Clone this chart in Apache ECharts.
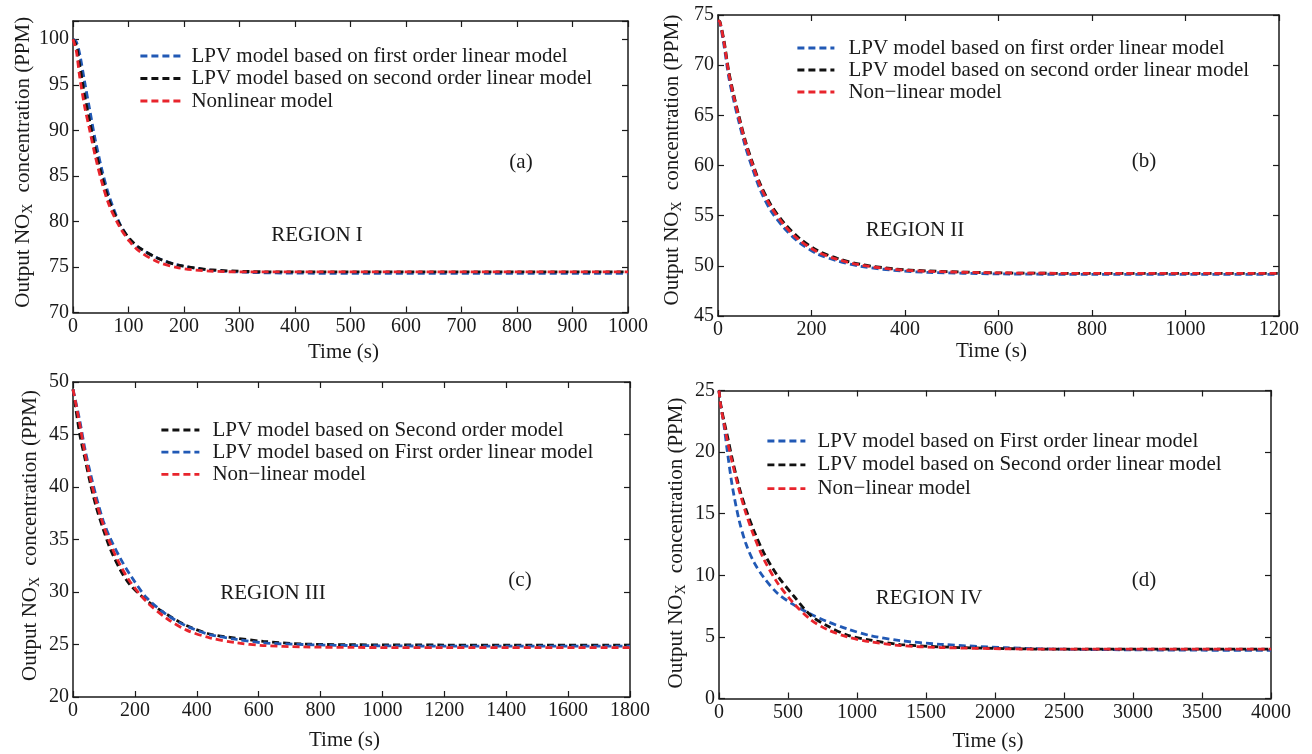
<!DOCTYPE html>
<html>
<head>
<meta charset="utf-8">
<script src="https://cdn.jsdelivr.net/npm/echarts@6/dist/echarts.min.js"></script>
<style>
  html, body { margin: 0; padding: 0; background: #fff; }
  #chart { width: 1312px; height: 754px; }
</style>
</head>
<body>
<div id="chart"></div>
<script>
// ---- (a) REGION I ----
const timeA   = [0, 6, 12, 21, 30, 40, 52, 65, 84, 102, 120, 153, 190, 246, 318, 400, 600, 800, 1000];
const firstA  = [100, 99.7, 98.4, 95.3, 92.3, 89.0, 85.7, 82.8, 79.8, 78.0, 77.05, 75.95, 75.2, 74.65, 74.4, 74.32, 74.3, 74.3, 74.3];
const secondA = [100, 99.3, 97.2, 93.8, 91.0, 88.0, 85.0, 82.3, 79.7, 78.1, 77.1, 75.95, 75.2, 74.7, 74.5, 74.45, 74.45, 74.45, 74.45];
const nonlinA = [100, 98.7, 95.9, 92.6, 90.05, 87.2, 84.3, 81.8, 79.4, 77.8, 76.7, 75.55, 74.9, 74.55, 74.45, 74.45, 74.45, 74.45, 74.45];

// ---- (b) REGION II ----
const timeB   = [0, 4, 13, 23, 34, 45, 59, 73, 91, 113, 141, 173, 212, 255, 305, 376, 448, 600, 800, 1000, 1200];
const firstB  = [74.45, 74.2, 71.9, 68.8, 66.4, 64.3, 61.8, 59.8, 57.5, 55.5, 53.8, 52.35, 51.2, 50.5, 49.95, 49.55, 49.35, 49.2, 49.15, 49.15, 49.15];
const secondB = [74.45, 74.35, 72.4, 69.4, 67.0, 64.9, 62.4, 60.4, 58.1, 56.1, 54.3, 52.8, 51.55, 50.75, 50.15, 49.7, 49.5, 49.3, 49.25, 49.25, 49.25];
const nonlinB = [74.45, 74.3, 72.2, 69.2, 66.8, 64.7, 62.2, 60.2, 57.9, 55.9, 54.1, 52.6, 51.4, 50.65, 50.08, 49.65, 49.45, 49.3, 49.25, 49.25, 49.25];

// ---- (c) REGION III ----
const timeC   = [0, 22, 38, 57, 76, 98, 119, 152, 184, 238, 302, 367, 442, 529, 615, 744, 900, 1200, 1500, 1800];
const secondC = [49.3, 45.0, 42.8, 40.2, 38.0, 35.95, 34.2, 32.15, 30.7, 29.2, 27.9, 26.8, 26.0, 25.6, 25.3, 25.05, 24.98, 24.95, 24.95, 24.95];
const firstC  = [49.3, 46.3, 43.7, 41.2, 38.97, 36.75, 35.2, 33.26, 31.67, 29.45, 27.86, 26.75, 25.95, 25.48, 25.16, 25.0, 24.9, 24.85, 24.85, 24.85];
const nonlinC = [49.3, 45.95, 43.3, 40.7, 38.5, 36.4, 34.7, 32.6, 31.0, 29.07, 27.5, 26.37, 25.64, 25.16, 24.9, 24.77, 24.72, 24.7, 24.7, 24.7];

// ---- (d) REGION IV ----
const timeD   = [0, 13, 37, 61, 97, 145, 194, 254, 326, 423, 543, 664, 784, 929, 1098, 1315, 1604, 2086, 2500, 3000, 3500, 4000];
const firstD  = [25, 23.8, 22.1, 20.0, 17.2, 14.5, 12.6, 11.05, 9.8, 8.55, 7.6, 6.85, 6.25, 5.65, 5.1, 4.7, 4.4, 4.12, 4.0, 3.95, 3.92, 3.9];
const secondD = [25, 23.8, 22.5, 21.3, 19.4, 17.2, 15.4, 13.6, 11.8, 9.98, 8.3, 6.75, 5.9, 5.15, 4.74, 4.38, 4.19, 4.05, 4.0, 4.0, 4.0, 4.0];
const nonlinD = [25, 23.7, 22.3, 20.9, 19.1, 16.96, 15.07, 13.17, 11.28, 9.4, 7.7, 6.41, 5.6, 5.0, 4.6, 4.3, 4.14, 4.03, 4.0, 4.0, 4.0, 4.0];

const xRanges = [[0, 1000, 100], [0, 1200, 200], [0, 1800, 200], [0, 4000, 500]];
const yRanges = [[70, 102, 5], [45, 75, 5], [20, 50, 5], [0, 25, 5]];

const FONT = 'Liberation Serif';
const INK = '#1a1a1a';
const BLUE = '#2159b5';
const BLACK = '#111111';
const RED = '#e8242c';

const pts = (t, v) => t.map((x, i) => [x, v[i]]);

const chart = echarts.init(document.getElementById('chart'));

const grids = [
  { left: 73, top: 21, width: 555, height: 291.5 },
  { left: 718, top: 15, width: 561, height: 301 },
  { left: 73, top: 382, width: 557, height: 315 },
  { left: 719, top: 390.5, width: 552, height: 308 }
];

const xAxis = [];
const yAxis = [];
const line = { color: INK, width: 1.5 };
const tick = { inside: true, length: 6, lineStyle: { color: INK, width: 1.2 } };
const xNameGap = [29, 25, 33, 32];
const yNameGap = [31, 34, 31, 31];
const yNameShift = [9, 11, 8, 3];

grids.forEach((g, i) => {
  const [x0, x1, xs] = xRanges[i];
  const [y0, y1, ys] = yRanges[i];
  xAxis.push({
    type: 'value', gridIndex: i, min: x0, max: x1, interval: xs, position: 'bottom',
    name: 'Time (s)', nameLocation: 'middle', nameGap: xNameGap[i],
    nameTextStyle: { fontFamily: FONT, fontSize: 21, color: INK, padding: [0, 14, 0, 0] },
    axisLine: { onZero: false, lineStyle: line },
    axisTick: tick,
    axisLabel: { fontFamily: FONT, fontSize: 20, color: INK, margin: 4, formatter: v => String(v) },
    splitLine: { show: false }
  });
  xAxis.push({
    type: 'value', gridIndex: i, min: x0, max: x1, interval: xs, position: 'top',
    axisLine: { onZero: false, lineStyle: line },
    axisTick: tick, axisLabel: { show: false }, splitLine: { show: false }
  });
  yAxis.push({
    type: 'value', gridIndex: i, min: y0, max: y1, interval: ys, position: 'left',
    name: 'Output NO{sub|X} concentration (PPM)', nameLocation: 'middle', nameRotate: 90,
    nameGap: yNameGap[i],
    nameTextStyle: {
      fontFamily: FONT, fontSize: 21, color: INK, lineHeight: 24, padding: [0, 0, 0, yNameShift[i]],
      rich: {
        sub: { fontFamily: FONT, fontSize: 14, color: INK, lineHeight: 14, verticalAlign: 'bottom', padding: [0, 6, 0, 0] }
      }
    },
    axisLine: { onZero: false, lineStyle: line },
    axisTick: tick,
    axisLabel: {
      fontFamily: FONT, fontSize: 20, color: INK, margin: 4,
      formatter: v => (v % 5 === 0 ? String(v) : '')
    },
    splitLine: { show: false }
  });
  yAxis.push({
    type: 'value', gridIndex: i, min: y0, max: y1, interval: ys, position: 'right',
    axisLine: { onZero: false, lineStyle: line },
    axisTick: tick, axisLabel: { show: false }, splitLine: { show: false }
  });
});

function dashed(name, color, panel, t, v) {
  return {
    name, type: 'line', xAxisIndex: panel * 2, yAxisIndex: panel * 2,
    data: pts(t, v), symbol: 'none', smooth: 0.3, color,
    lineStyle: { color, width: 2.8, type: [7, 4] },
    emphasis: { disabled: true }, silent: true
  };
}

const N1 = 'LPV model based on first order linear model';
const N2 = 'LPV model based on second order linear model';
const NL = 'Nonlinear model';
const NL2 = 'Non\u2212linear model';
const C2 = 'LPV model based on Second order model';
const C1 = 'LPV model based on First order linear model';
const D2 = 'LPV model based on Second order linear model';

const series = [
  dashed(N1, BLUE, 0, timeA, firstA),
  dashed(N2, BLACK, 0, timeA, secondA),
  dashed(NL, RED, 0, timeA, nonlinA),
  dashed(N1, BLUE, 1, timeB, firstB),
  dashed(N2, BLACK, 1, timeB, secondB),
  dashed(NL2, RED, 1, timeB, nonlinB),
  dashed(C2, BLACK, 2, timeC, secondC),
  dashed(C1, BLUE, 2, timeC, firstC),
  dashed(NL2, RED, 2, timeC, nonlinC),
  dashed(C1, BLUE, 3, timeD, firstD),
  dashed(D2, BLACK, 3, timeD, secondD),
  dashed(NL2, RED, 3, timeD, nonlinD)
];

function legendAt(left, top, names, w, gap, textPad) {
  return {
    left, top, orient: 'vertical', padding: 0, itemGap: gap,
    itemWidth: w, itemHeight: 14, selectedMode: false,
    data: names,
    itemStyle: { opacity: 0, borderWidth: 0 },
    lineStyle: { width: 2.8 },
    textStyle: { fontFamily: FONT, fontSize: 21, color: INK, lineHeight: 22, padding: [0, 0, 0, textPad] }
  };
}

const legend = [
  legendAt(139, 45, [N1, N2, NL], 41, 0.5, 5),
  legendAt(796, 37, [N1, N2, NL2], 37, 0, 9),
  legendAt(160, 419, [C2, C1, NL2], 38, 0.2, 8),
  legendAt(766, 430, [C1, D2, NL2], 38, 1.8, 7)
];

function label(text, x, y) {
  return {
    type: 'text', x, y, silent: true,
    style: { text, fontFamily: FONT, fontSize: 21, fill: INK, textAlign: 'center', textVerticalAlign: 'middle' }
  };
}

chart.setOption({
  animation: false,
  backgroundColor: '#fff',
  grid: grids.map(g => Object.assign({ containLabel: false }, g)),
  xAxis, yAxis, legend, series,
  graphic: [
    label('(a)', 521, 162), label('REGION I', 317, 235),
    label('(b)', 1144, 161), label('REGION II', 915, 230),
    label('(c)', 520, 580), label('REGION III', 273, 593),
    label('(d)', 1144, 580), label('REGION IV', 929, 598)
  ]
});
</script>
</body>
</html>
